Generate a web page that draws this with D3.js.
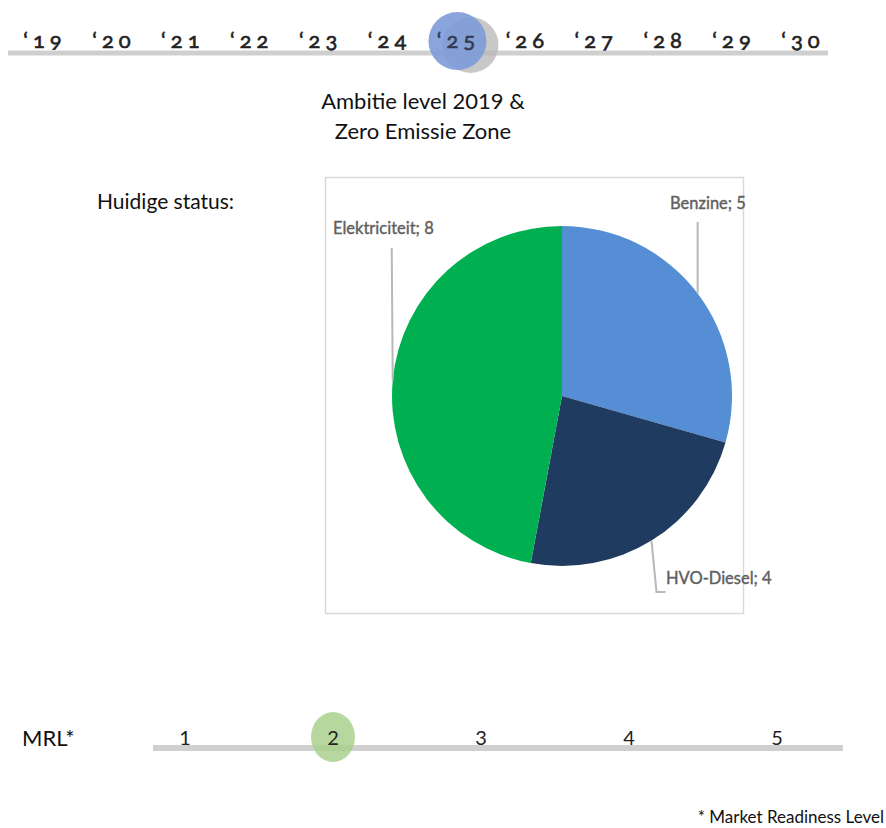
<!DOCTYPE html>
<html><head><meta charset="utf-8">
<script src="https://cdn.jsdelivr.net/npm/d3@7"></script>
<style>
body{margin:0;background:#fff;}
svg{display:block;}
text{font-family:Lato,"Open Sans",sans-serif;}
</style></head>
<body>
<script>
const years = ["19","20","21","22","23","24","25","26","27","28","29","30"];
const highlightYear = "25";
const pieLabels = ["Benzine","HVO-Diesel","Elektriciteit"];
const pieValues = [5,4,8];
const pieColors = ["#558ed5","#1f3b5f","#00b050"];
const mrlLevels = [1,2,3,4,5];
const mrlCurrent = 2;

const W=886,H=828;
const svg=d3.select("body").append("svg").attr("width",W).attr("height",H);

// Top timeline
const xYear=d3.scalePoint().domain(years).range([45,803]);
svg.append("line").attr("x1",8).attr("x2",828).attr("y1",53).attr("y2",53)
  .attr("stroke","#cfcfcf").attr("stroke-width",5);
svg.append("circle").attr("cx",xYear(highlightYear)+12).attr("cy",45).attr("r",28)
  .attr("fill","#b5b5b5").attr("opacity",0.75);
svg.append("circle").attr("cx",xYear(highlightYear)-1).attr("cy",41).attr("r",29)
  .attr("fill","#7d9bd8").attr("opacity",0.9);
svg.selectAll("text.year").data(years).enter().append("text")
  .attr("class","year").attr("x",d=>xYear(d)).attr("y",48)
  .attr("text-anchor","middle").attr("font-size",22).attr("letter-spacing",5)
  .attr("stroke",d=>d===highlightYear?"#333b52":"#222").attr("stroke-width",0.6)
  .style("font-feature-settings","'onum' 1").style("font-variant-numeric","oldstyle-nums")
  .attr("fill",d=>d===highlightYear?"#333b52":"#222")
  .text(d=>"\u2018"+d);

// Ambitie text
const amb=svg.append("text").attr("text-anchor","middle").attr("font-size",22).attr("fill","#111");
amb.append("tspan").attr("x",423).attr("y",109).text("Ambitie level 2019 &");
amb.append("tspan").attr("x",423).attr("y",139).text("Zero Emissie Zone");

svg.append("text").attr("x",97).attr("y",209).attr("font-size",21).attr("fill","#111").text("Huidige status:");

// Pie
svg.append("rect").attr("x",325.5).attr("y",177.5).attr("width",418).attr("height",436)
  .attr("fill","#fff").attr("stroke","#d9d9d9").attr("stroke-width",1.5);
const cx=562, cy=396, R=170;
const pieData=pieLabels.map((l,i)=>({label:l,value:pieValues[i],color:pieColors[i]}));
const arcs=d3.pie().sort(null).value(d=>d.value)(pieData);
const arc=d3.arc().innerRadius(0).outerRadius(R);
const g=svg.append("g").attr("transform",`translate(${cx},${cy})`);
g.selectAll("path").data(arcs).enter().append("path").attr("d",arc).attr("fill",d=>d.data.color);

const labelPos={
  "Benzine":{lx:670,ly:209},
  "HVO-Diesel":{lx:666,ly:584},
  "Elektriciteit":{lx:333,ly:234}
};
function edgePt(a){const m=(a.startAngle+a.endAngle)/2;return [cx+R*Math.sin(m),cy-R*Math.cos(m)];}
arcs.forEach(a=>{
  const p=edgePt(a);const L=labelPos[a.data.label];
  let pts;
  if(a.data.label==="Benzine") pts=[[p[0],p[1]],[p[0],222]];
  else if(a.data.label==="Elektriciteit") pts=[[p[0],p[1]],[p[0]-1,248]];
  else pts=[[p[0],p[1]],[p[0]+5,592],[p[0]+14,592]];
  svg.append("path").attr("d",d3.line()(pts)).attr("fill","none").attr("stroke","#b8b8b8").attr("stroke-width",2);
  svg.append("text").attr("x",L.lx).attr("y",L.ly).attr("font-size",16.5)
    .attr("stroke","#5f5f5f").attr("stroke-width",0.4).attr("fill","#5f5f5f")
    .text(a.data.label+"; "+a.data.value);
});

// MRL
const xM=d3.scalePoint().domain(mrlLevels).range([185,777]);
svg.append("line").attr("x1",153).attr("x2",843).attr("y1",748).attr("y2",748)
  .attr("stroke","#d0d0d0").attr("stroke-width",6);
svg.append("ellipse").attr("cx",xM(mrlCurrent)).attr("cy",737).attr("rx",22).attr("ry",25)
  .attr("fill","#a9d18e").attr("opacity",0.85);
svg.selectAll("text.mrl").data(mrlLevels).enter().append("text").attr("class","mrl")
  .attr("x",d=>xM(d)).attr("y",745).attr("text-anchor","middle").attr("font-size",20).attr("fill","#222")
  .text(d=>d);
svg.append("text").attr("x",22).attr("y",746).attr("font-size",22).attr("fill","#111").text("MRL*");
svg.append("text").attr("x",884).attr("y",823).attr("text-anchor","end").attr("font-size",17).attr("fill","#111").text("* Market Readiness Level");
</script>
</body></html>
